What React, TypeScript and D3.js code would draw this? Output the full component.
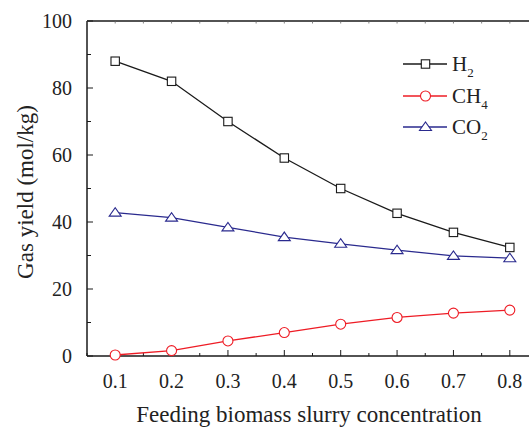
import React from "react";
import * as d3 from "d3";

const concentrations = [0.1, 0.2, 0.3, 0.4, 0.5, 0.6, 0.7, 0.8];
const h2Values = [88, 82, 70, 59.1, 50, 42.6, 36.9, 32.4];
const ch4Values = [0.3, 1.6, 4.5, 7.0, 9.5, 11.5, 12.8, 13.7];
const co2Values = [42.8, 41.3, 38.4, 35.5, 33.5, 31.6, 29.9, 29.2];
const xTickLabels = ["0.1", "0.2", "0.3", "0.4", "0.5", "0.6", "0.7", "0.8"];
const yTickValues = [0, 20, 40, 60, 80, 100];
const seriesNames = ["H", "CH", "CO"];
const seriesSubs = ["2", "4", "2"];

const W = 529;
const H = 429;
const FONT = "'Liberation Serif', 'Times New Roman', serif";

export default function App() {
  const x = d3.scaleLinear().domain([0.05, 0.85]).range([87, 538]);
  const y = d3.scaleLinear().domain([0, 100]).range([356, 21]);
  const line = d3
    .line<number>()
    .x((_, i) => x(concentrations[i]))
    .y((d) => y(d));

  const minorX = d3.range(0.05, 0.851, 0.05).map((v) => +v.toFixed(2));
  const minorY = d3.range(0, 101, 10);
  const axisColor = "#1a1a1a";

  const series = [
    { vals: h2Values, color: "#1a1a1a", marker: "square" },
    { vals: ch4Values, color: "#ee1c25", marker: "circle" },
    { vals: co2Values, color: "#2a2a8e", marker: "triangle" },
  ];

  const marker = (type: string, cx: number, cy: number, color: string, key: any) => {
    if (type === "square")
      return <rect key={key} x={cx - 4.2} y={cy - 4.2} width={8.4} height={8.4} fill="white" stroke={color} strokeWidth={1.1} />;
    if (type === "circle")
      return <circle key={key} cx={cx} cy={cy} r={5} fill="white" stroke={color} strokeWidth={1.1} />;
    return (
      <path key={key} d={`M${cx - 6},${cy + 3.5}L${cx + 6},${cy + 3.5}L${cx},${cy - 5}Z`} fill="white" stroke={color} strokeWidth={1.1} />
    );
  };

  return (
    <svg width={W} height={H} style={{ position: "absolute", left: 0, top: 0, background: "white" }} fontFamily={FONT}>
      <rect width={W} height={H} fill="white" />
      <line x1={87} x2={W} y1={356} y2={356} stroke={axisColor} strokeWidth={1.5} />
      <line x1={87} x2={W} y1={21} y2={21} stroke={axisColor} strokeWidth={1.5} />
      <line x1={87} x2={87} y1={21} y2={356} stroke={axisColor} strokeWidth={1.5} />
      {minorX.map((v, i) => {
        const major = Math.abs(v * 10 - Math.round(v * 10)) < 1e-6;
        const px = x(v);
        return (
          <g key={"xt" + i}>
            <line x1={px} x2={px} y1={356} y2={356 - (major ? 6 : 3)} stroke={axisColor} strokeWidth={1} />
            <line x1={px} x2={px} y1={21} y2={21 + 2.5} stroke="#666" strokeWidth={0.8} />
          </g>
        );
      })}
      {minorY.map((v, i) => {
        const major = v % 20 === 0;
        return (
          <line key={"yt" + i} x1={87} x2={87 + (major ? 6 : 4)} y1={y(v)} y2={y(v)} stroke={axisColor} strokeWidth={1} />
        );
      })}
      {concentrations.map((c, i) => (
        <text key={"xl" + i} x={x(c)} y={388} textAnchor="middle" fontSize={20} fill="#222">
          {xTickLabels[i]}
        </text>
      ))}
      {yTickValues.map((v, i) => (
        <text key={"yl" + i} x={72} y={y(v)} dy="0.35em" textAnchor="end" fontSize={20} fill="#222">
          {v}
        </text>
      ))}
      <text x={309} y={422} textAnchor="middle" fontSize={23} fill="#222">
        Feeding biomass slurry concentration
      </text>
      <text transform={`translate(33,${192}) rotate(-90)`} textAnchor="middle" fontSize={23} fill="#222">
        Gas yield (mol/kg)
      </text>
      {series.map((s, si) => (
        <g key={"s" + si}>
          <path d={line(s.vals) || ""} fill="none" stroke={s.color} strokeWidth={1.3} />
          {s.vals.map((v, i) => marker(s.marker, x(concentrations[i]), y(v), s.color, i))}
        </g>
      ))}
      {series.map((s, si) => {
        const ly = [64, 96, 127][si];
        return (
          <g key={"lg" + si}>
            <line x1={403} x2={447} y1={ly} y2={ly} stroke={s.color} strokeWidth={1.3} />
            {marker(s.marker, 425.5, ly, s.color, "m")}
            <text x={452} y={ly + 7} fontSize={21} fill="#222">
              {seriesNames[si]}
              <tspan fontSize={13} dy={6}>{seriesSubs[si]}</tspan>
            </text>
          </g>
        );
      })}
    </svg>
  );
}
